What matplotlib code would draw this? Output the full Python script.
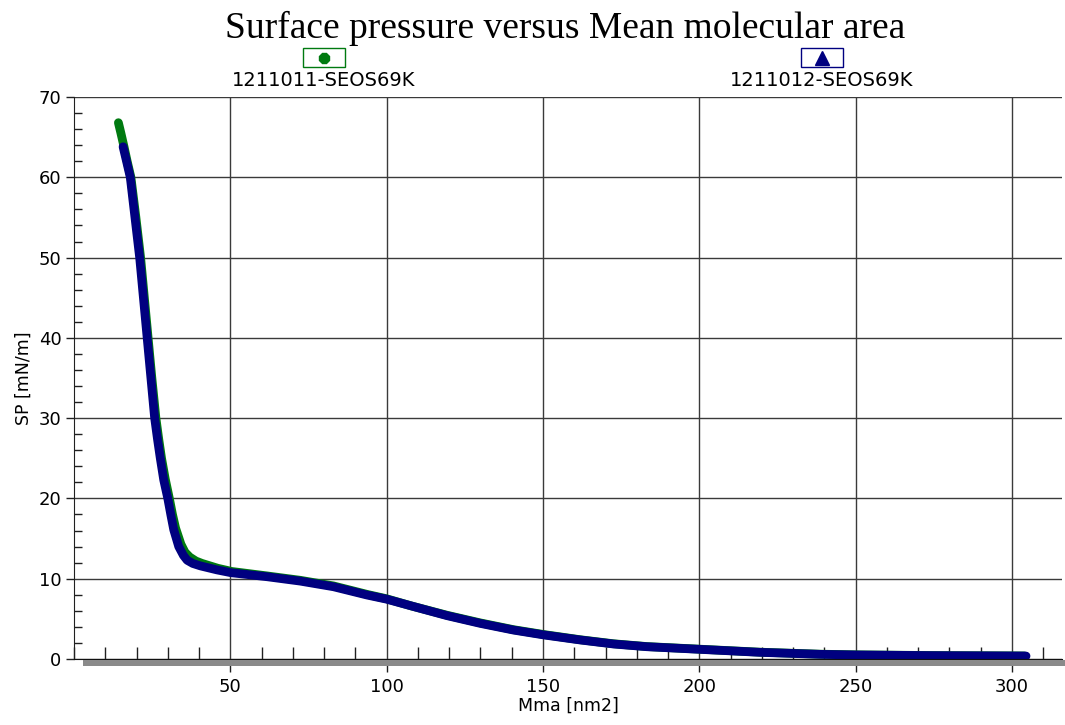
import numpy as np
import matplotlib.pyplot as plt
from matplotlib.patches import Rectangle
from matplotlib.ticker import MultipleLocator

plt.rcParams['font.family'] = ['DejaVu Sans']

# isotherm 1211011 (green)
area_1 = [14.2, 15.0, 16.0, 17.0, 18.2, 19.8, 21.3, 22.5, 23.7, 24.9, 26.2, 27.1, 28.0,
          29.2, 30.5, 31.5, 32.5, 34.2, 35.5, 37.0, 39.0, 41.0, 46.0, 50.5, 61.7, 72.4,
          83.0, 93.7, 100.0, 108.0, 119.3, 129.9, 140.6, 150.2, 161.9, 172.5, 183.2,
          200.3, 219.4, 238.6, 250.3, 274.7, 304.0]
sp_1 = [66.8, 65.5, 63.8, 62.0, 60.0, 55.0, 50.0, 45.0, 40.0, 35.0, 30.0, 27.4, 25.0,
        22.4, 20.0, 18.0, 16.3, 14.3, 13.3, 12.7, 12.2, 11.9, 11.3, 10.9, 10.35, 9.8,
        9.1, 8.05, 7.5, 6.6, 5.45, 4.5, 3.65, 3.05, 2.4, 1.9, 1.55,
        1.22, 0.85, 0.6, 0.52, 0.43, 0.38]

# isotherm 1211012 (blue)
area_2 = [15.7, 16.8, 18.0, 19.5, 21.0, 22.2, 23.4, 24.6, 25.8, 26.7, 27.6, 28.7, 30.0,
          31.0, 31.9, 33.5, 35.0, 36.2, 38.0, 40.4, 45.7, 50.2, 61.7, 72.4, 83.0, 93.7,
          100.0, 108.0, 119.3, 129.9, 140.6, 150.2, 161.9, 172.5, 183.2, 200.3, 219.4,
          238.6, 250.3, 274.7, 304.5]
sp_2 = [63.8, 62.0, 60.0, 55.0, 50.0, 45.0, 40.0, 35.0, 30.0, 27.4, 25.0, 22.3, 20.0,
        17.9, 16.1, 14.0, 12.9, 12.3, 11.9, 11.6, 11.1, 10.75, 10.25, 9.7, 9.0, 7.97,
        7.45, 6.6, 5.4, 4.44, 3.6, 3.0, 2.37, 1.87, 1.53, 1.2, 0.83,
        0.58, 0.5, 0.42, 0.37]

labels = ['1211011-SEOS69K', '1211012-SEOS69K']
colors = ['#007a10', '#000080']

W, H = 1065, 725
fig = plt.figure(figsize=(W / 100, H / 100), dpi=100)
ax = fig.add_axes([74 / W, 66 / H, 988 / W, 562 / H])

ax.plot(area_1, sp_1, color=colors[0], linewidth=6.3, solid_capstyle='round',
        solid_joinstyle='round', zorder=3)
ax.plot(area_2, sp_2, color=colors[1], linewidth=6.3, solid_capstyle='round',
        solid_joinstyle='round', zorder=4)

ax.set_xlim(0, 316)
ax.set_ylim(0, 70)
ax.xaxis.set_minor_locator(MultipleLocator(10))
ax.yaxis.set_major_locator(MultipleLocator(10))
ax.yaxis.set_minor_locator(MultipleLocator(2))
ax.set_xticks([50, 100, 150, 200, 250, 300])

ax.tick_params(axis='x', which='major', direction='out', length=9, width=1,
               labelsize=13, pad=5, color='#202020')
ax.tick_params(axis='x', which='minor', direction='in', length=9, width=1, color='#202020')
ax.tick_params(axis='y', which='major', direction='out', length=6, width=1,
               labelsize=13, pad=3, color='#202020')
ax.tick_params(axis='y', which='minor', direction='in', length=6, width=1, color='#202020')

ax.grid(which='major', color='#3a3a3a', linewidth=1.0)
ax.set_axisbelow(True)
for side in ['top', 'right']:
    ax.spines[side].set_visible(False)
ax.spines['left'].set_color('#202020')
ax.spines['bottom'].set_color('#101010')
ax.spines['bottom'].set_zorder(5)

# grey shadow bar under the x axis
fig.patches.append(Rectangle((83 / W, (H - 666) / H), (W - 83) / W, 6 / H,
                             transform=fig.transFigure, facecolor='#8a8a8a',
                             edgecolor='none', zorder=0))

ax.set_xlabel('Mma [nm2]', fontsize=12.5, labelpad=0)
ax.set_ylabel('SP [mN/m]', fontsize=12.5, labelpad=4)

fig.text(565 / W, 1 - 28 / H, 'Surface pressure versus Mean molecular area',
         ha='center', va='center', fontsize=27, family='Liberation Serif')

# legend boxes above the plot
legend_x = [324, 822]
markers = ['8', '^']
msizes = [8, 10]
for cx, lab, col, mk, ms in zip(legend_x, labels, colors, markers, msizes):
    fig.patches.append(Rectangle(((cx - 21) / W, 1 - 67 / H), 42 / W, 19 / H,
                                 transform=fig.transFigure, facecolor='white',
                                 edgecolor=col, linewidth=1))
    fig.lines.append(plt.Line2D([cx / W], [1 - 58 / H], transform=fig.transFigure,
                                marker=mk, markersize=ms, color=col, linestyle='none'))
    fig.text(cx / W, 1 - 81 / H, lab, ha='center', va='center', fontsize=14)

fig.savefig('out.png', dpi=100)
